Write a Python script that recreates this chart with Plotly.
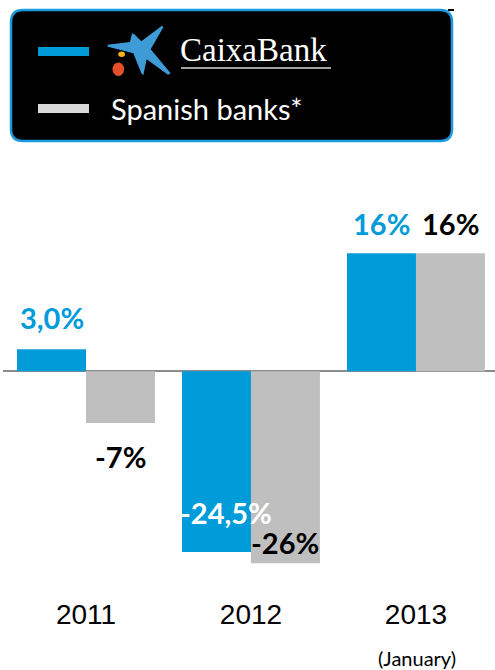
import plotly.graph_objects as go

# ---- data -------------------------------------------------------------
years = ["2011", "2012", "2013"]
caixabank = [3.0, -24.5, 16.0]
spanish_banks = [-7.0, -26.0, 16.0]
caixabank_labels = ["3,0%", "-24,5%", "16%"]
spanish_labels = ["-7%", "-26%", "16%"]
series_names = ["CaixaBank", "Spanish banks*"]
year_note = "(January)"

# ---- styling ----------------------------------------------------------
BLUE = "#009bd9"
GREY = "#bfbfbf"
LEGEND_GREY = "#d9d9d9"
FIG_W, FIG_H = 495, 670
M_L, M_R, M_T, M_B = 3, 0, 0, 80
PLOT_W = FIG_W - M_L - M_R
PLOT_H = FIG_H - M_T - M_B
BAR_W = 0.418


def px(x):
    return (x - M_L) / PLOT_W


def py(y):
    return 1 - (y - M_T) / PLOT_H


def pix_path(points, close=True):
    s = "M " + " L ".join(f"{px(x):.5f},{py(y):.5f}" for x, y in points)
    return s + (" Z" if close else "")


def rounded_rect(x0, y0, x1, y1, r):
    k = [
        ("M", x0 + r, y0), ("L", x1 - r, y0), ("Q", x1, y0, x1, y0 + r),
        ("L", x1, y1 - r), ("Q", x1, y1, x1 - r, y1), ("L", x0 + r, y1),
        ("Q", x0, y1, x0, y1 - r), ("L", x0, y0 + r), ("Q", x0, y0, x0 + r, y0),
    ]
    out = []
    for seg in k:
        cmd, vals = seg[0], seg[1:]
        pts = [f"{px(vals[i]):.5f},{py(vals[i + 1]):.5f}" for i in range(0, len(vals), 2)]
        out.append(cmd + " " + " ".join(pts))
    return " ".join(out) + " Z"


fig = go.Figure()
fig.add_trace(go.Bar(x=years, y=caixabank, name=series_names[0], marker_color=BLUE,
                     marker_line_width=0, width=BAR_W, offset=-BAR_W))
fig.add_trace(go.Bar(x=years, y=spanish_banks, name=series_names[1], marker_color=GREY,
                     marker_line_width=0, width=BAR_W, offset=0))

# value labels
label_font = dict(family="Lato", size=29, color="black")
caixa_style = [(0, 32, BLUE), (9, 40, "white"), (0, 30, BLUE)]
spanish_style = [(0, -34, "black"), (0, 21, "black"), (0, 30, "black")]
annotations = []
for i, (v, t) in enumerate(zip(caixabank, caixabank_labels)):
    dx, dy, c = caixa_style[i]
    annotations.append(dict(x=i - BAR_W / 2, y=v, text=f"<b>{t}</b>", showarrow=False,
                            xshift=dx, yshift=dy, yanchor="middle",
                            font=dict(label_font, color=c)))
for i, (v, t) in enumerate(zip(spanish_banks, spanish_labels)):
    dx, dy, c = spanish_style[i]
    annotations.append(dict(x=i + BAR_W / 2, y=v, text=f"<b>{t}</b>", showarrow=False,
                            xshift=dx, yshift=dy, yanchor="middle",
                            font=dict(label_font, color=c)))
annotations.append(dict(x=2, xshift=1, y=py(658), yref="paper", yanchor="middle",
                        text=year_note, showarrow=False,
                        font=dict(family="Lato", size=20, color="black")))

# legend panel with logo
annotations.append(dict(x=px(178), y=py(50), xref="paper", yref="paper", xanchor="left",
                        yanchor="middle", text=series_names[0], showarrow=False,
                        font=dict(family="Liberation Serif", size=33, color="white")))
annotations.append(dict(x=px(109), y=py(108), xref="paper", yref="paper", xanchor="left",
                        yanchor="middle", text=series_names[1], showarrow=False,
                        font=dict(family="Lato", size=29, color="white")))

# logo star outline, in pixel coordinates of the panel
star_zoom = [(22, 74), (90, 66), (96, 40), (102, 42), (124, 64), (186, 17), (190, 22),
             (152, 88), (212, 160), (204, 164), (140, 118), (130, 166), (124, 160),
             (100, 100), (24, 80)]
star = [(100 + zx / 3, 20 + zy / 3) for zx, zy in star_zoom]

shapes = [
    dict(type="path", xref="paper", yref="paper", path=rounded_rect(11, 10, 452, 141, 12),
         fillcolor="black", line=dict(color="#1a9be0", width=2.5), layer="above"),
    dict(type="rect", xref="paper", yref="paper", x0=px(448), x1=px(454), y0=py(9), y1=py(11),
         fillcolor="black", line_width=0),
    dict(type="rect", xref="paper", yref="paper", x0=px(38), x1=px(89), y0=py(47), y1=py(56),
         fillcolor=BLUE, line_width=0, layer="above"),
    dict(type="rect", xref="paper", yref="paper", x0=px(38), x1=px(89), y0=py(104), y1=py(113),
         fillcolor=LEGEND_GREY, line_width=0, layer="above"),
    dict(type="path", xref="paper", yref="paper", path=pix_path(star),
         fillcolor="#3d9bd6", line_width=0, layer="above"),
    dict(type="circle", xref="paper", yref="paper", x0=px(118.3), x1=px(125), y0=py(51.6), y1=py(57),
         fillcolor="#f5b21a", line_width=0, layer="above"),
    dict(type="circle", xref="paper", yref="paper", x0=px(112.5), x1=px(124.2), y0=py(62.6), y1=py(76),
         fillcolor="#e4502b", line_width=0, layer="above"),
    dict(type="line", xref="paper", yref="paper", x0=px(181), x1=px(331), y0=py(68), y1=py(68),
         line=dict(color="#d8d8d8", width=1.5), layer="above"),
]

zero_px = 371.3
scale = 7.38
y_top = (zero_px - M_T) / scale
y_bot = -(M_T + PLOT_H - zero_px) / scale

fig.update_layout(
    width=FIG_W, height=FIG_H,
    margin=dict(l=M_L, r=M_R, t=M_T, b=M_B),
    paper_bgcolor="white", plot_bgcolor="white",
    showlegend=False, barmode="group",
    xaxis=dict(type="category", range=[-0.503, 2.479], showgrid=False, zeroline=False,
               showline=False, ticks="", ticklabelstandoff=5,
               tickfont=dict(family="Liberation Sans", size=28, color="black")),
    yaxis=dict(range=[y_bot, y_top], showgrid=False, showticklabels=False, ticks="",
               zeroline=True, zerolinecolor="#8c8c8c", zerolinewidth=2, showline=False),
    annotations=annotations, shapes=shapes,
)

fig.write_html("out.html")
